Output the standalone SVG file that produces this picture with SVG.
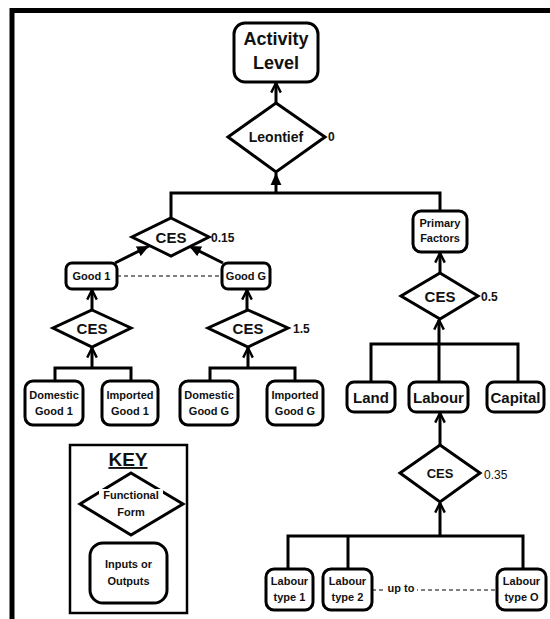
<svg xmlns="http://www.w3.org/2000/svg" width="550" height="619" viewBox="0 0 550 619">
<defs>
<style>
.box{fill:#fff;stroke:#000;stroke-width:3}
.dia{fill:#fff;stroke:#000;stroke-width:3;stroke-linejoin:miter}
.ln{fill:none;stroke:#000;stroke-width:3}
.dash{fill:none;stroke:#000;stroke-width:1;stroke-dasharray:4 3}
text{font-family:"Liberation Sans",Arial,sans-serif;font-weight:bold;fill:#111;text-anchor:middle}
.s{font-size:11px}
.m{font-size:15px}
.l{font-size:18px}
.v{font-size:12px;text-anchor:start}
</style>
<marker id="open" viewBox="0 0 10 10" refX="9" refY="5" markerWidth="4" markerHeight="4" orient="auto" markerUnits="strokeWidth">
<path d="M1,1 L9,5 L1,9" fill="none" stroke="#000" stroke-width="2"/>
</marker>
<marker id="fill" viewBox="0 0 10 10" refX="10" refY="5" markerWidth="4" markerHeight="4" orient="auto" markerUnits="strokeWidth">
<path d="M0,0.5 L10,5 L0,9.5 Z" fill="#000"/>
</marker>
</defs>
<rect width="550" height="619" fill="#fff"/>
<path d="M12,619 V10.5 H550" fill="none" stroke="#000" stroke-width="5"/>

<g id="connectors">
<line class="ln" x1="276" y1="103" x2="276" y2="83" marker-end="url(#open)"/>
<path class="ln" d="M171,218 V193 H440 V211"/>
<line class="ln" x1="276" y1="193" x2="276" y2="173" marker-end="url(#fill)"/>
<line class="ln" x1="115" y1="263" x2="149" y2="246" marker-end="url(#fill)"/>
<line class="ln" x1="223" y1="263" x2="189" y2="246" marker-end="url(#fill)"/>
<line class="dash" x1="117" y1="276" x2="222" y2="276"/>
<line class="ln" x1="92" y1="310" x2="92" y2="290" marker-end="url(#open)"/>
<line class="ln" x1="247" y1="310" x2="247" y2="290" marker-end="url(#open)"/>
<path class="ln" d="M55,381 V368 H131 V381"/>
<line class="ln" x1="92" y1="368" x2="92" y2="348" marker-end="url(#open)"/>
<path class="ln" d="M210,381 V368 H295 V381"/>
<line class="ln" x1="248" y1="368" x2="248" y2="348" marker-end="url(#open)"/>
<line class="ln" x1="440" y1="273" x2="440" y2="253" marker-end="url(#open)"/>
<path class="ln" d="M371,382 V344 H518 V382"/>
<line class="ln" x1="439" y1="382" x2="439" y2="320" marker-end="url(#open)"/>
<line class="ln" x1="440" y1="445" x2="440" y2="413" marker-end="url(#open)"/>
<path class="ln" d="M288,569 V536 H523 V569 M348,536 V569"/>
<line class="ln" x1="440" y1="536" x2="440" y2="503" marker-end="url(#open)"/>
<line class="dash" x1="372" y1="590" x2="497" y2="590"/>
</g>

<g id="activity-level">
<rect class="box" x="234" y="23" width="84" height="59" rx="11"/>
<text class="l" x="276" y="45">Activity</text>
<text class="l" x="276" y="69">Level</text>
</g>
<g id="leontief">
<polygon class="dia" points="276,103 325,137 276,172 228,137"/>
<text x="276" y="142" style="font-size:14px">Leontief</text>
<text class="v" x="328" y="141">0</text>
</g>
<g id="ces-goods">
<polygon class="dia" points="171,218 209,237 171,256 132,237"/>
<text class="m" x="171" y="243">CES</text>
<text class="v" x="211" y="242">0.15</text>
</g>
<g id="good-1">
<rect class="box" x="66" y="263" width="51" height="26" rx="6"/>
<text class="s" x="91.5" y="280">Good 1</text>
</g>
<g id="good-g">
<rect class="box" x="222" y="263" width="48" height="26" rx="6"/>
<text class="s" x="246" y="280">Good G</text>
</g>
<g id="ces-1">
<polygon class="dia" points="92,310 131,328 92,347 53,328"/>
<text class="m" x="92" y="334">CES</text>
</g>
<g id="ces-g">
<polygon class="dia" points="248,310 288,328 248,347 208,328"/>
<text class="m" x="248" y="334">CES</text>
<text class="v" x="293" y="333">1.5</text>
</g>
<g id="domestic-good-1">
<rect class="box" x="25" y="381" width="58" height="44" rx="8"/>
<text class="s" x="54" y="399">Domestic</text>
<text class="s" x="54" y="415">Good 1</text>
</g>
<g id="imported-good-1">
<rect class="box" x="102" y="381" width="56" height="44" rx="8"/>
<text class="s" x="130" y="399">Imported</text>
<text class="s" x="130" y="415">Good 1</text>
</g>
<g id="domestic-good-g">
<rect class="box" x="180" y="381" width="58" height="44" rx="8"/>
<text class="s" x="209" y="399">Domestic</text>
<text class="s" x="209" y="415">Good G</text>
</g>
<g id="imported-good-g">
<rect class="box" x="267" y="381" width="56" height="44" rx="8"/>
<text class="s" x="295" y="399">Imported</text>
<text class="s" x="295" y="415">Good G</text>
</g>
<g id="primary-factors">
<rect class="box" x="413" y="211" width="54" height="41" rx="8"/>
<text class="s" x="440" y="227">Primary</text>
<text class="s" x="440" y="242">Factors</text>
</g>
<g id="ces-factors">
<polygon class="dia" points="440,273 478,296 440,319 401,296"/>
<text class="m" x="440" y="302">CES</text>
<text class="v" x="481" y="301">0.5</text>
</g>
<g id="land">
<rect class="box" x="347" y="382" width="48" height="30" rx="7"/>
<text class="m" x="371" y="403">Land</text>
</g>
<g id="labour">
<rect class="box" x="409" y="382" width="59" height="30" rx="7"/>
<text class="m" x="438.5" y="403">Labour</text>
</g>
<g id="capital">
<rect class="box" x="487" y="382" width="57" height="30" rx="7"/>
<text class="m" x="515.5" y="403">Capital</text>
</g>
<g id="ces-labour">
<polygon class="dia" points="440,445 480,473 440,502 400,473"/>
<text x="440" y="478" style="font-size:13px">CES</text>
<text class="v" x="484" y="479" style="font-weight:normal">0.35</text>
</g>
<g id="labour-type-1">
<rect class="box" x="266" y="569" width="47" height="41" rx="8"/>
<text class="s" x="289.5" y="585">Labour</text>
<text class="s" x="289.5" y="601">type 1</text>
</g>
<g id="labour-type-2">
<rect class="box" x="323" y="569" width="49" height="41" rx="8"/>
<text class="s" x="347.5" y="585">Labour</text>
<text class="s" x="347.5" y="601">type 2</text>
</g>
<g id="labour-type-o">
<rect class="box" x="497" y="569" width="49" height="41" rx="8"/>
<text class="s" x="521.5" y="585">Labour</text>
<text class="s" x="521.5" y="601">type O</text>
</g>
<g id="up-to">
<rect x="385" y="582" width="32" height="12" fill="#fff"/>
<text class="s" x="401" y="592">up to</text>
</g>

<g id="key">
<rect x="70" y="445" width="117" height="168" fill="#fff" stroke="#000" stroke-width="2.5"/>
<text x="128" y="466" style="font-size:19px;text-decoration:underline">KEY</text>
<polygon class="dia" points="131,473 183,504 131,535 80,504"/>
<rect x="99" y="489" width="64" height="12" fill="#fff"/>
<text class="s" x="131" y="499">Functional</text>
<text class="s" x="131" y="516">Form</text>
<rect class="box" x="90" y="543" width="77" height="60" rx="13"/>
<text class="s" x="128.5" y="568">Inputs or</text>
<text class="s" x="128.5" y="585">Outputs</text>
</g>
</svg>
